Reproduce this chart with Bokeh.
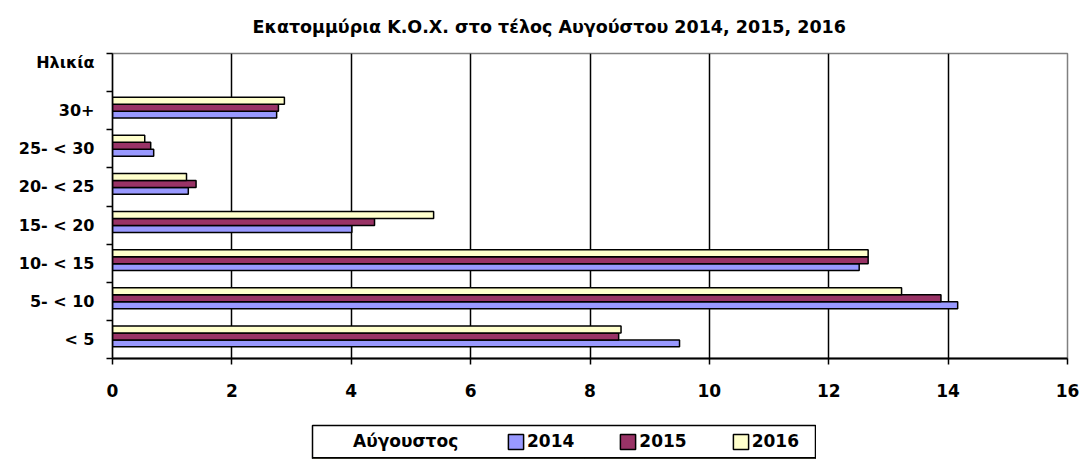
from bokeh.plotting import figure
from bokeh.models import (Range1d, FixedTicker, ColumnDataSource, Legend, LegendItem, Spacer)
from bokeh.layouts import column, row
from bokeh.embed import file_html
from bokeh.resources import INLINE

# ---- data ----
categories = ["< 5", "5- < 10", "10- < 15", "15- < 20", "20- < 25", "25- < 30", "30+"]
years = ["2014", "2015", "2016"]
v2014 = [9.50, 14.16, 12.51, 4.01, 1.27, 0.69, 2.75]
v2015 = [8.48, 13.88, 12.66, 4.39, 1.40, 0.64, 2.78]
v2016 = [8.52, 13.22, 12.66, 5.38, 1.24, 0.54, 2.88]
x_ticks = [0, 2, 4, 6, 8, 10, 12, 14, 16]
title_text = "Εκατομμύρια Κ.Ο.Χ. στο τέλος Αυγούστου 2014, 2015, 2016"
y_title = "Ηλικία"
legend_title = "Αύγουστος"
colors = ["#9999FF", "#993366", "#FFFFCC"]

FONT = "DejaVu Sans"
W = 1081

p = figure(width=W, height=422,
           x_range=Range1d(0, 16), y_range=Range1d(-0.5, len(categories) + 0.5),
           output_backend="svg", toolbar_location=None,
           min_border_left=112, min_border_right=14,
           min_border_top=52, min_border_bottom=64)

p.background_fill_color = "white"
p.border_fill_color = "white"
p.outline_line_color = "#808080"
p.outline_line_width = 1.5

# title
p.title.text = title_text
p.title.align = "left"
p.title.offset = 140
p.title.standoff = 31
p.title.vertical_align = "middle"
p.title.text_font = FONT
p.title.text_font_style = "bold"
p.title.text_font_size = "17.5px"
p.title.text_color = "black"

# bars
bar_h = 0.183
shift = 0.08
idx = list(range(len(categories)))
renderers = []
sources = []
for k, (vals, col) in enumerate(zip([v2014, v2015, v2016], colors)):
    src = ColumnDataSource(dict(y=[i + shift + (k - 1) * bar_h for i in idx], right=vals))
    sources.append(src)
    r = p.hbar(y="y", left=0, right="right", height=bar_h, source=src,
               fill_color=col, line_color="black", line_width=1.5)
    renderers.append(r)

# x axis
p.xaxis.ticker = FixedTicker(ticks=x_ticks)
p.xaxis.axis_line_color = "black"
p.xaxis.axis_line_width = 2
p.xaxis.major_tick_out = 6
p.xaxis.major_tick_in = 0
p.xaxis.minor_tick_out = 0
p.xaxis.major_tick_line_width = 1.5
p.xaxis.major_label_standoff = 19
p.xaxis.major_label_text_font = FONT
p.xaxis.major_label_text_font_style = "bold"
p.xaxis.major_label_text_font_size = "17px"
p.xaxis.major_label_text_color = "black"

# y axis: category labels at band centres, ticks at band boundaries,
# the axis title "Ηλικία" in the empty top band
y_title_pos = len(categories) + 0.26
p.yaxis.ticker = FixedTicker(ticks=idx + [y_title_pos],
                             minor_ticks=[i - 0.5 for i in range(len(categories) + 2)])
overrides = {i: c for i, c in enumerate(categories)}
overrides[y_title_pos] = y_title
p.yaxis.major_label_overrides = overrides
p.yaxis.axis_line_color = "black"
p.yaxis.axis_line_width = 1.5
p.yaxis.major_tick_out = 0
p.yaxis.major_tick_in = 0
p.yaxis.minor_tick_out = 6
p.yaxis.minor_tick_in = 0
p.yaxis.minor_tick_line_width = 1.5
p.yaxis.minor_tick_line_color = "black"
p.yaxis.major_label_standoff = 12
p.yaxis.major_label_text_font = FONT
p.yaxis.major_label_text_font_style = "bold"
p.yaxis.major_label_text_font_size = "16px"
p.yaxis.major_label_text_color = "black"

# grid
p.xgrid.ticker = FixedTicker(ticks=x_ticks[1:-1])
p.xgrid.grid_line_color = "black"
p.xgrid.grid_line_width = 1.5
p.ygrid.visible = False

# ---- legend panel (separate small figure, its outline is the legend box) ----
lw, lh = 505, 35
lg = figure(width=lw, height=lh, x_range=Range1d(0, 1), y_range=Range1d(100, 101),
            x_axis_type=None, y_axis_type=None,
            output_backend="svg", toolbar_location=None,
            min_border_left=1, min_border_right=1, min_border_top=1, min_border_bottom=1)
lg.outline_line_color = "black"
lg.outline_line_width = 1.5
lg.background_fill_color = "white"
lg.border_fill_color = "white"
lg.xgrid.visible = False
lg.ygrid.visible = False

blank = lg.hbar(y="y", left=0, right="right", height=bar_h, source=sources[0],
                fill_alpha=0, line_alpha=0)
leg_a = Legend(items=[LegendItem(label=legend_title, renderers=[blank])],
               location=(7, 7), orientation="horizontal",
               glyph_width=32, glyph_height=19, label_standoff=2, padding=0, margin=0,
               label_height=20,
               border_line_alpha=0, background_fill_alpha=0,
               label_text_font=FONT, label_text_font_style="bold",
               label_text_font_size="17px", label_text_color="black")
lg.add_layout(leg_a)

# proxies share the series sources; the legend panel's y range keeps them out of view
proxies = []
for src, col in zip(sources, colors):
    proxies.append(lg.hbar(y="y", left=0, right="right", height=bar_h, source=src,
                           fill_color=col, line_color="black", line_width=1.5))
leg_b = Legend(items=[LegendItem(label=y, renderers=[r]) for y, r in zip(years, proxies)],
               location=(194, 7), orientation="horizontal",
               glyph_width=19, glyph_height=19, label_standoff=2, spacing=44, padding=0, margin=0,
               label_height=20,
               border_line_alpha=0, background_fill_alpha=0,
               label_text_font=FONT, label_text_font_style="bold",
               label_text_font_size="17px", label_text_color="black")
lg.add_layout(leg_b)

layout = column(p, Spacer(height=2), row(Spacer(width=311), lg))

open("out.html", "w").write(file_html(layout, INLINE))
